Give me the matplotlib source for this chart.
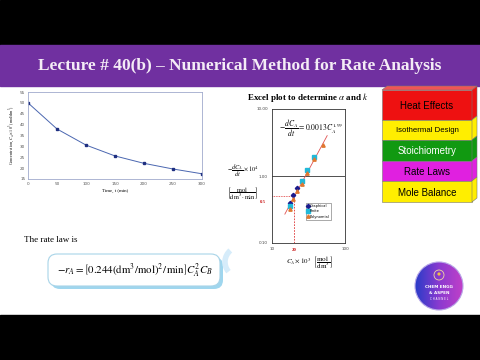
import numpy as np
import matplotlib
matplotlib.use("Agg")
import matplotlib.pyplot as plt
from matplotlib.patches import Rectangle, Polygon, FancyBboxPatch, Circle, Arc

plt.rcParams["mathtext.fontset"] = "stix"
SERIF = "Liberation Serif"

# concentration vs time (left chart)
time_min = [0, 50, 100, 150, 200, 250, 300]
conc = [50.0, 38.0, 30.6, 25.6, 22.2, 19.6, 17.4]

# log-log rate plot
c_graph = [17.4, 19.6, 22.2]
r_graph = [0.40, 0.52, 0.66]
c_finite = [17.4, 25.6, 30.6, 38.0]
r_finite = [0.36, 0.84, 1.22, 1.94]
c_poly = [17.4, 19.6, 22.2, 25.6, 30.6, 38.0, 50.0]
r_poly = [0.32, 0.46, 0.60, 0.76, 1.12, 1.77, 2.90]
fit_c = [15.0, 57.0]
fit_r = [0.27, 4.0]

stack_labels = ["Heat Effects", "Isothermal Design", "Stoichiometry", "Rate Laws", "Mole Balance"]
stack_colors = ["#ee1111", "#ffee00", "#119911", "#e020e0", "#ffee00"]
stack_text = ["black", "black", "white", "black", "black"]
stack_edges = [90, 120, 140, 161, 181, 202]

fig = plt.figure(figsize=(4.8, 3.6), dpi=100)
bg = fig.add_axes([0, 0, 1, 1])
bg.set_xlim(0, 480)
bg.set_ylim(360, 0)
bg.axis("off")

# slide frame
bg.add_patch(Rectangle((0, 0), 480, 45, color="black"))
bg.add_patch(Rectangle((0, 315), 480, 45, color="black"))
bg.add_patch(Rectangle((0, 45), 480, 41, color="#7030a0"))
bg.text(240, 66, "Lecture # 40(b) – Numerical Method for Rate Analysis",
        ha="center", va="center", color="#f4ecf6", fontsize=12.5,
        fontweight="bold", family=SERIF)

# rate law
bg.text(24, 240, "The rate law is", ha="left", va="center", fontsize=6.5, family=SERIF)
bg.add_patch(FancyBboxPatch((51, 257), 172, 32, boxstyle="round,pad=0,rounding_size=9",
                            facecolor="#9fd6ee", edgecolor="none"))
bg.add_patch(FancyBboxPatch((48, 254), 172, 32, boxstyle="round,pad=0,rounding_size=9",
                            facecolor="white", edgecolor="#a8d4e8", linewidth=0.8))
bg.text(135, 270, r"$-r_A=\left[0.244(\mathrm{dm^3/mol})^2/\,\mathrm{min}\right]C_A^2C_B$",
        ha="center", va="center", fontsize=7.8)

# excel plot texts
bg.text(308, 97, r"Excel plot to determine $\alpha$ and $k$", ha="center", va="center",
        fontsize=6.5, fontweight="bold", family=SERIF)
bg.text(243, 171, r"$-\dfrac{dC_A}{dt}\times10^4$", ha="center", va="center", fontsize=4.5)
bg.text(243, 194, r"$\left[\dfrac{\mathrm{mol}}{\mathrm{dm^3\cdot min}}\right]$",
        ha="center", va="center", fontsize=4.5)
bg.text(266, 202, "0.5", ha="right", va="center", fontsize=3.5, color="#cc2222",
        family=SERIF, fontweight="bold")
bg.text(309, 263, r"$C_A\times10^3\ \ \left[\dfrac{\mathrm{mol}}{\mathrm{dm^3}}\right]$",
        ha="center", va="center", fontsize=5)
bg.add_patch(Arc((240, 262), 30, 30, theta1=140, theta2=230, edgecolor="#d6ecfa", linewidth=4))

# stack of topics
x0, x1, d = 382, 472, 5
bg.add_patch(Polygon([(x0, stack_edges[0]), (x0 + d, stack_edges[0] - 4),
                      (x1 + d, stack_edges[0] - 4), (x1, stack_edges[0])],
                     facecolor="#f05555", edgecolor="#777777", linewidth=0.4))
for i, lab in enumerate(stack_labels):
    top, bot = stack_edges[i], stack_edges[i + 1]
    bg.add_patch(Rectangle((x0, top), x1 - x0, bot - top, facecolor=stack_colors[i],
                           edgecolor="#777777", linewidth=0.4))
    bg.add_patch(Polygon([(x1, top), (x1 + d, top - 4), (x1 + d, bot - 4), (x1, bot)],
                         facecolor=stack_colors[i], edgecolor="#777777", linewidth=0.4))
    fs = 5.6 if lab == "Isothermal Design" else 7
    bg.text((x0 + x1) / 2, (top + bot) / 2 + 1, lab, ha="center", va="center",
            fontsize=fs, color=stack_text[i], family="Liberation Sans")

# channel logo
cx, cy, rad = 439, 286, 24
grad = np.linspace(0, 1, 64)[None, :] * np.ones((64, 1))
img = bg.imshow(grad, extent=(cx - rad, cx + rad, cy + rad, cy - rad),
                cmap=matplotlib.colors.LinearSegmentedColormap.from_list("lg", ["#2a3cc8", "#8a3ad0", "#c040c8"]),
                zorder=3, aspect="auto")
clip = Circle((cx, cy), rad, transform=bg.transData)
img.set_clip_path(clip)
bg.add_patch(Circle((cx, cy), rad, facecolor="none", edgecolor="#b8a8e8", linewidth=0.8, zorder=4))
bg.add_patch(Circle((cx, cy - 11), 5, facecolor="none", edgecolor="#f0d8a0", linewidth=0.6, zorder=4))
bg.add_patch(Circle((cx, cy - 12), 1.6, facecolor="#f0c040", edgecolor="none", zorder=4))
bg.text(cx, cy + 1, "CHEM ENGG", ha="center", va="center", fontsize=3, color="white",
        fontweight="bold", zorder=5)
bg.text(cx, cy + 7, "& ASPEN", ha="center", va="center", fontsize=3, color="white",
        fontweight="bold", zorder=5)
bg.text(cx, cy + 13, "C H A N N E L", ha="center", va="center", fontsize=2, color="white", zorder=5)

# left chart: concentration vs time
ax1 = fig.add_axes([28 / 480, 1 - 179 / 360, 174 / 480, 87 / 360])
ax1.plot(time_min, conc, color="#4a66b0", linewidth=0.7)
ax1.plot(time_min, conc, "s", color="#1f2f80", markersize=1.6)
ax1.set_xlim(0, 300)
ax1.set_ylim(15, 55)
ax1.set_xticks(time_min)
ax1.set_yticks(range(15, 56, 5))
ax1.tick_params(labelsize=3, length=0, pad=2, colors="#555555")
for s in ax1.spines.values():
    s.set_color("#a0aacc")
    s.set_linewidth(0.6)
ax1.set_xlabel("Time, t (min)", fontsize=3.5, labelpad=2, family=SERIF)
ax1.set_ylabel(r"Concentration, $C_A\times10^3$ (mol/dm$^3$)", fontsize=3, labelpad=2, family=SERIF)

# right chart: log-log
ax2 = fig.add_axes([272 / 480, 1 - 243 / 360, 73 / 480, 134 / 360])
ax2.set_xscale("log")
ax2.set_yscale("log")
ax2.set_xlim(10, 100)
ax2.set_ylim(0.1, 10)
ax2.axhline(1.0, color="#333333", linewidth=0.6)
ax2.plot([20, 20], [0.1, 0.5], color="#dd3333", linestyle=(0, (2, 1.5)), linewidth=0.6)
ax2.plot([10, 20], [0.5, 0.5], color="#dd3333", linestyle=(0, (1, 1)), linewidth=0.6)
ax2.plot(fit_c, fit_r, color="#e05050", linewidth=0.6, zorder=2)
ax2.plot(c_graph, r_graph, "D", color="#1a1a8c", markersize=2.2, label="Graphical", zorder=3)
ax2.plot(c_finite, r_finite, "s", color="#22b8d8", markersize=2.4, label="Finite", zorder=3)
ax2.plot(c_poly, r_poly, "^", color="#e07830", markersize=2.4, label="Polynomial", zorder=3)
ax2.set_xticks([10, 100])
ax2.set_xticklabels(["10", "100"])
ax2.set_yticks([0.1, 1, 10])
ax2.set_yticklabels(["0.10", "1.00", "10.00"])
ax2.minorticks_off()
ax2.tick_params(labelsize=3, length=0, pad=3, colors="#444444")
for s in ax2.spines.values():
    s.set_color("#333333")
    s.set_linewidth(0.6)
ax2.text(20, 0.085, "20", ha="center", va="top", fontsize=3.5, color="#cc2222",
         fontweight="bold", family=SERIF)
ax2.text(0.53, 0.86, r"$-\dfrac{dC_A}{dt}=0.0013C_A^{1.99}$", transform=ax2.transAxes,
         ha="center", va="center", fontsize=5.5)
leg = ax2.legend(loc="lower right", bbox_to_anchor=(0.83, 0.16), fontsize=2.6,
                 frameon=True, fancybox=False, edgecolor="#444444", handlelength=0.6,
                 handletextpad=0.3, borderpad=0.3, labelspacing=0.4)
leg.get_frame().set_linewidth(0.4)

fig.savefig("out.png", dpi=100)
